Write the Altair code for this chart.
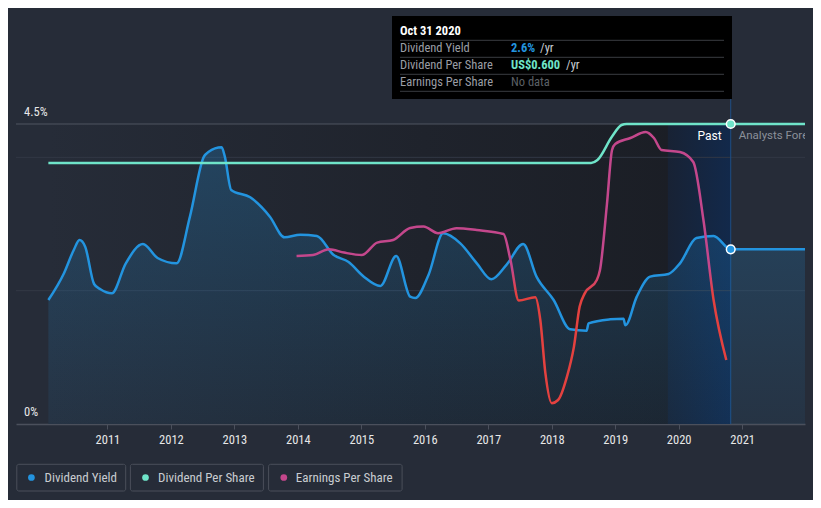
import altair as alt
import pandas as pd

# ---------------- data ----------------
yield_year = [2010.07, 2010.31, 2010.47, 2010.56, 2010.65, 2010.79, 2010.89, 2011.07, 2011.29, 2011.56,
              2011.79, 2012.09, 2012.30, 2012.52, 2012.59, 2012.80, 2012.85, 2012.95, 2013.25, 2013.56,
              2013.79, 2014.04, 2014.30, 2014.56, 2014.80, 2015.04, 2015.30, 2015.55, 2015.77, 2015.85,
              2016.06, 2016.29, 2016.56, 2016.82, 2017.05, 2017.29, 2017.55, 2017.76, 2018.03, 2018.29,
              2018.55, 2018.58, 2018.92, 2019.13, 2019.16, 2019.34, 2019.55, 2019.84, 2020.02, 2020.28,
              2020.55, 2020.82, 2021.99]
yield_pct = [1.86, 2.25, 2.61, 2.76, 2.66, 2.10, 2.02, 1.96, 2.41, 2.70,
             2.49, 2.41, 3.11, 4.01, 4.08, 4.15, 4.01, 3.51, 3.40, 3.11,
             2.80, 2.84, 2.82, 2.54, 2.43, 2.21, 2.07, 2.52, 1.91, 1.89,
             2.24, 2.86, 2.71, 2.41, 2.17, 2.39, 2.70, 2.21, 1.86, 1.42,
             1.40, 1.51, 1.57, 1.58, 1.48, 1.91, 2.21, 2.25, 2.41, 2.79,
             2.82, 2.62, 2.62]

dps_year = [2010.07, 2018.62, 2018.72, 2018.95, 2019.10, 2019.18, 2021.99]
dps_usd = [0.522, 0.522, 0.528, 0.575, 0.598, 0.600, 0.600]

eps_year = [2013.98, 2014.24, 2014.49, 2014.73, 2015.01, 2015.25, 2015.50, 2015.77, 2015.98, 2016.21,
            2016.50, 2016.82, 2017.24, 2017.35, 2017.48, 2017.74, 2017.82, 2017.90, 2018.00, 2018.10,
            2018.24, 2018.35, 2018.44, 2018.52, 2018.71, 2018.76, 2018.87, 2018.95, 2019.00, 2019.24,
            2019.48, 2019.61, 2019.73, 2020.02, 2020.23, 2020.39, 2020.55, 2020.75]
eps_usd = [0.84, 0.845, 0.874, 0.857, 0.845, 0.907, 0.92, 0.98, 0.987, 0.954,
           0.979, 0.97, 0.95, 0.82, 0.617, 0.634, 0.52, 0.254, 0.104, 0.12,
           0.237, 0.387, 0.587, 0.653, 0.72, 0.77, 1.10, 1.37, 1.40, 1.43,
           1.46, 1.43, 1.37, 1.36, 1.31, 1.02, 0.62, 0.32]

tick_years = list(range(2011, 2022))
y_label_vals = [0, 4.5]
y_label_text = ["0%", "4.5%"]
grid_vals = [2, 4]
top_grid = [4.5]

x_start, x_end = 2009.56, 2021.99
past_start, band_start, now_year = 2010.07, 2019.83, 2020.82
now_yield = [2.62]
now_dps = [0.600]

tooltip_date = "Oct 31 2020"
tooltip_labels = ["Dividend Yield", "Dividend Per Share", "Earnings Per Share"]
tooltip_values = ["2.6%", "US$0.600", "No data"]
tooltip_units = ["/yr", "/yr", ""]
legend_labels = ["Dividend Yield", "Dividend Per Share", "Earnings Per Share"]

# ---------------- style ----------------
BG = "#262c38"
BLUE = "#2394df"
TEAL = "#6fe4c9"
MAGENTA = "#c4478c"
RED = "#e4413f"
GRID = "#323845"
FONT = "Roboto"
COND = "Roboto Condensed, Liberation Sans Narrow, Roboto, sans-serif"

xs = alt.Scale(domain=[x_start, x_end], nice=False, zero=False)
ys = alt.Scale(domain=[0, 4.5], nice=False, zero=True)
dps_s = alt.Scale(domain=[0, 0.6], nice=False, zero=True)
eps_s = alt.Scale(domain=[0, 1.5], nice=False, zero=True)

xaxis = alt.Axis(values=tick_years, format="d", title=None, grid=False,
                 domainColor="#4b505c", domainWidth=1.5, tickColor="#4b505c", tickSize=5,
                 labelColor="#e8e8e8", labelFontSize=12.5, labelFont=COND, labelPadding=4,
                 labelFlush=False)


def X(field):
    return alt.X(field, type="quantitative", scale=xs, axis=xaxis)


def one():
    return pd.DataFrame({"k": [0]})


yield_df = pd.DataFrame({"year": yield_year, "pct": yield_pct})
dps_df = pd.DataFrame({"year": dps_year, "dps": dps_usd})
eps_df = pd.DataFrame({"year": eps_year, "eps": eps_usd})

layers = []

# past shading
layers.append(
    alt.Chart(pd.DataFrame({"a": [past_start], "b": [now_year]})).mark_rect(
        fill=alt.Gradient(gradient="linear", x1=0, x2=1, y1=0, y2=0,
                          stops=[alt.GradientStop(offset=0, color="#262c38"),
                                 alt.GradientStop(offset=0.55, color="#1f232c"),
                                 alt.GradientStop(offset=1, color="#1a1d24")])
    ).encode(x=X("a"), x2="b", y=alt.value(0), y2=alt.value(300))
)
# highlighted last-year band
layers.append(
    alt.Chart(pd.DataFrame({"a": [band_start], "b": [now_year]})).mark_rect(
        fill=alt.Gradient(gradient="linear", x1=0, x2=1, y1=0, y2=0,
                          stops=[alt.GradientStop(offset=0, color="#182234"),
                                 alt.GradientStop(offset=1, color="#12294b")])
    ).encode(x=X("a"), x2="b", y=alt.value(0), y2=alt.value(300))
)
# gridlines
layers.append(
    alt.Chart(pd.DataFrame({"v": grid_vals})).mark_rule(color=GRID, strokeWidth=1).encode(
        y=alt.Y("v:Q", scale=ys, axis=None), x=alt.value(0), x2=alt.value(789))
)
layers.append(
    alt.Chart(pd.DataFrame({"v": top_grid})).mark_rule(color="#4e5461", strokeWidth=1).encode(
        y=alt.Y("v:Q", scale=ys, axis=None), x=alt.value(0), x2=alt.value(789))
)
# now line
layers.append(
    alt.Chart(pd.DataFrame({"a": [now_year]})).mark_rule(color="#1f4f86", strokeWidth=1).encode(
        x=X("a"), y=alt.value(-25), y2=alt.value(300))
)
# yield area + line
layers.append(
    alt.Chart(yield_df).mark_area(
        interpolate="monotone",
        fill=alt.Gradient(gradient="linear", x1=0, x2=0, y1=0, y2=1,
                          stops=[alt.GradientStop(offset=0, color="rgba(35,148,223,0.26)"),
                                 alt.GradientStop(offset=1, color="rgba(35,148,223,0.07)")])
    ).encode(x=X("year"), y=alt.Y("pct:Q", scale=ys, axis=None))
)
layers.append(
    alt.Chart(yield_df).mark_line(interpolate="monotone", color=BLUE, strokeWidth=2.5).encode(
        x=X("year"), y=alt.Y("pct:Q", scale=ys, axis=None))
)
# dividend per share
layers.append(
    alt.Chart(dps_df).mark_line(interpolate="monotone", color=TEAL, strokeWidth=2.5).encode(
        x=X("year"), y=alt.Y("dps:Q", scale=dps_s, axis=None))
)
# earnings per share
layers.append(
    alt.Chart(eps_df).mark_line(
        interpolate="monotone", strokeWidth=2.5,
        stroke=alt.Gradient(gradient="linear", x1=0, x2=0, y1=0, y2=1,
                            stops=[alt.GradientStop(offset=0, color=MAGENTA),
                                   alt.GradientStop(offset=0.5, color=MAGENTA),
                                   alt.GradientStop(offset=0.6, color=RED),
                                   alt.GradientStop(offset=1, color=RED)])
    ).encode(x=X("year"), y=alt.Y("eps:Q", scale=eps_s, axis=None))
)
# current points
layers.append(
    alt.Chart(pd.DataFrame({"year": [now_year], "v": now_yield})).mark_circle(
        size=75, color=BLUE, opacity=1, stroke="white", strokeWidth=1.5).encode(
        x=X("year"), y=alt.Y("v:Q", scale=ys, axis=None))
)
layers.append(
    alt.Chart(pd.DataFrame({"year": [now_year], "v": now_dps})).mark_circle(
        size=75, color=TEAL, opacity=1, stroke="white", strokeWidth=1.5).encode(
        x=X("year"), y=alt.Y("v:Q", scale=dps_s, axis=None))
)
# y labels
layers.append(
    alt.Chart(pd.DataFrame({"v": y_label_vals, "t": y_label_text})).mark_text(
        align="left", baseline="middle", dy=-12, font=COND, fontSize=12.5, color="#e8e8e8").encode(
        y=alt.Y("v:Q", scale=ys, axis=None), x=alt.value(8), text="t:N")
)
# Past / Forecast labels
layers.append(
    alt.Chart(pd.DataFrame({"a": [now_year], "t": ["Past"]})).mark_text(
        align="right", baseline="middle", dx=-9, font=FONT, fontSize=12,
        color="#ffffff").encode(x=X("a"), y=alt.value(12), text="t:N")
)
layers.append(
    alt.Chart(pd.DataFrame({"a": [now_year], "t": ["Analysts Forecast"]})).mark_text(
        align="left", baseline="middle", dx=8, font=FONT, fontSize=11.5, color="#8b909a",
        clip=True).encode(x=X("a"), y=alt.value(12), text="t:N")
)

# tooltip box
layers.append(
    alt.Chart(one()).mark_rect(color="#000000").encode(
        x=alt.value(376), x2=alt.value(716), y=alt.value(-108), y2=alt.value(-25))
)
for yy in [-83.7, -66.7, -49.7, -32.7]:
    layers.append(
        alt.Chart(one()).mark_rule(color="#3a3d42", strokeWidth=1).encode(
            x=alt.value(384), x2=alt.value(708), y=alt.value(yy))
    )
layers.append(
    alt.Chart(pd.DataFrame({"t": [tooltip_date]})).mark_text(
        align="left", baseline="middle", font=COND, fontSize=12.5, fontWeight="bold",
        color="#ffffff").encode(x=alt.value(384), y=alt.value(-93), text="t:N")
)
val_colors = [BLUE, TEAL, "#5c6066"]
unit_x = [524, 550, 550]
for i, (lab, val, unit) in enumerate(zip(tooltip_labels, tooltip_values, tooltip_units)):
    yy = -75.7 + 17 * i
    layers.append(
        alt.Chart(pd.DataFrame({"t": [lab]})).mark_text(
            align="left", baseline="middle", font=COND, fontSize=12.5, color="#9b9ea5").encode(
            x=alt.value(384), y=alt.value(yy), text="t:N")
    )
    layers.append(
        alt.Chart(pd.DataFrame({"t": [val]})).mark_text(
            align="left", baseline="middle", font=COND, fontSize=12.5,
            fontWeight="bold" if i < 2 else "normal", color=val_colors[i]).encode(
            x=alt.value(495), y=alt.value(yy), text="t:N")
    )
    if unit:
        layers.append(
            alt.Chart(pd.DataFrame({"t": [unit]})).mark_text(
                align="left", baseline="middle", font=COND, fontSize=12.5, color="#c9ccd1").encode(
                x=alt.value(unit_x[i]), y=alt.value(yy), text="t:N")
        )

# legend
box_x = [(0.8, 109.7), (114.4, 247.4), (252.6, 386.1)]
dot_x = [15.4, 129.5, 267.8]
txt_x = [28.5, 142, 279.8]
leg_colors = [BLUE, TEAL, MAGENTA]
for i, lab in enumerate(legend_labels):
    layers.append(
        alt.Chart(one()).mark_rect(fill=BG, stroke="#4a4f5a", strokeWidth=1, cornerRadius=2).encode(
            x=alt.value(box_x[i][0]), x2=alt.value(box_x[i][1]), y=alt.value(340.3), y2=alt.value(367))
    )
    layers.append(
        alt.Chart(one()).mark_circle(size=45, color=leg_colors[i], opacity=1).encode(
            x=alt.value(dot_x[i]), y=alt.value(353.5))
    )
    layers.append(
        alt.Chart(pd.DataFrame({"t": [lab]})).mark_text(
            align="left", baseline="middle", font=COND, fontSize=13, color="#c9ccd1").encode(
            x=alt.value(txt_x[i]), y=alt.value(353.5), text="t:N")
    )

chart = alt.layer(*layers).resolve_scale(y="independent").properties(
    width=789, height=300,
    padding={"left": 8, "top": 116, "right": 8, "bottom": 76},
    autosize=alt.AutoSizeParams(type="none"),
    background=BG,
).configure_view(strokeWidth=0)

chart.save("out.html", embed_options={"renderer": "svg", "actions": False})
